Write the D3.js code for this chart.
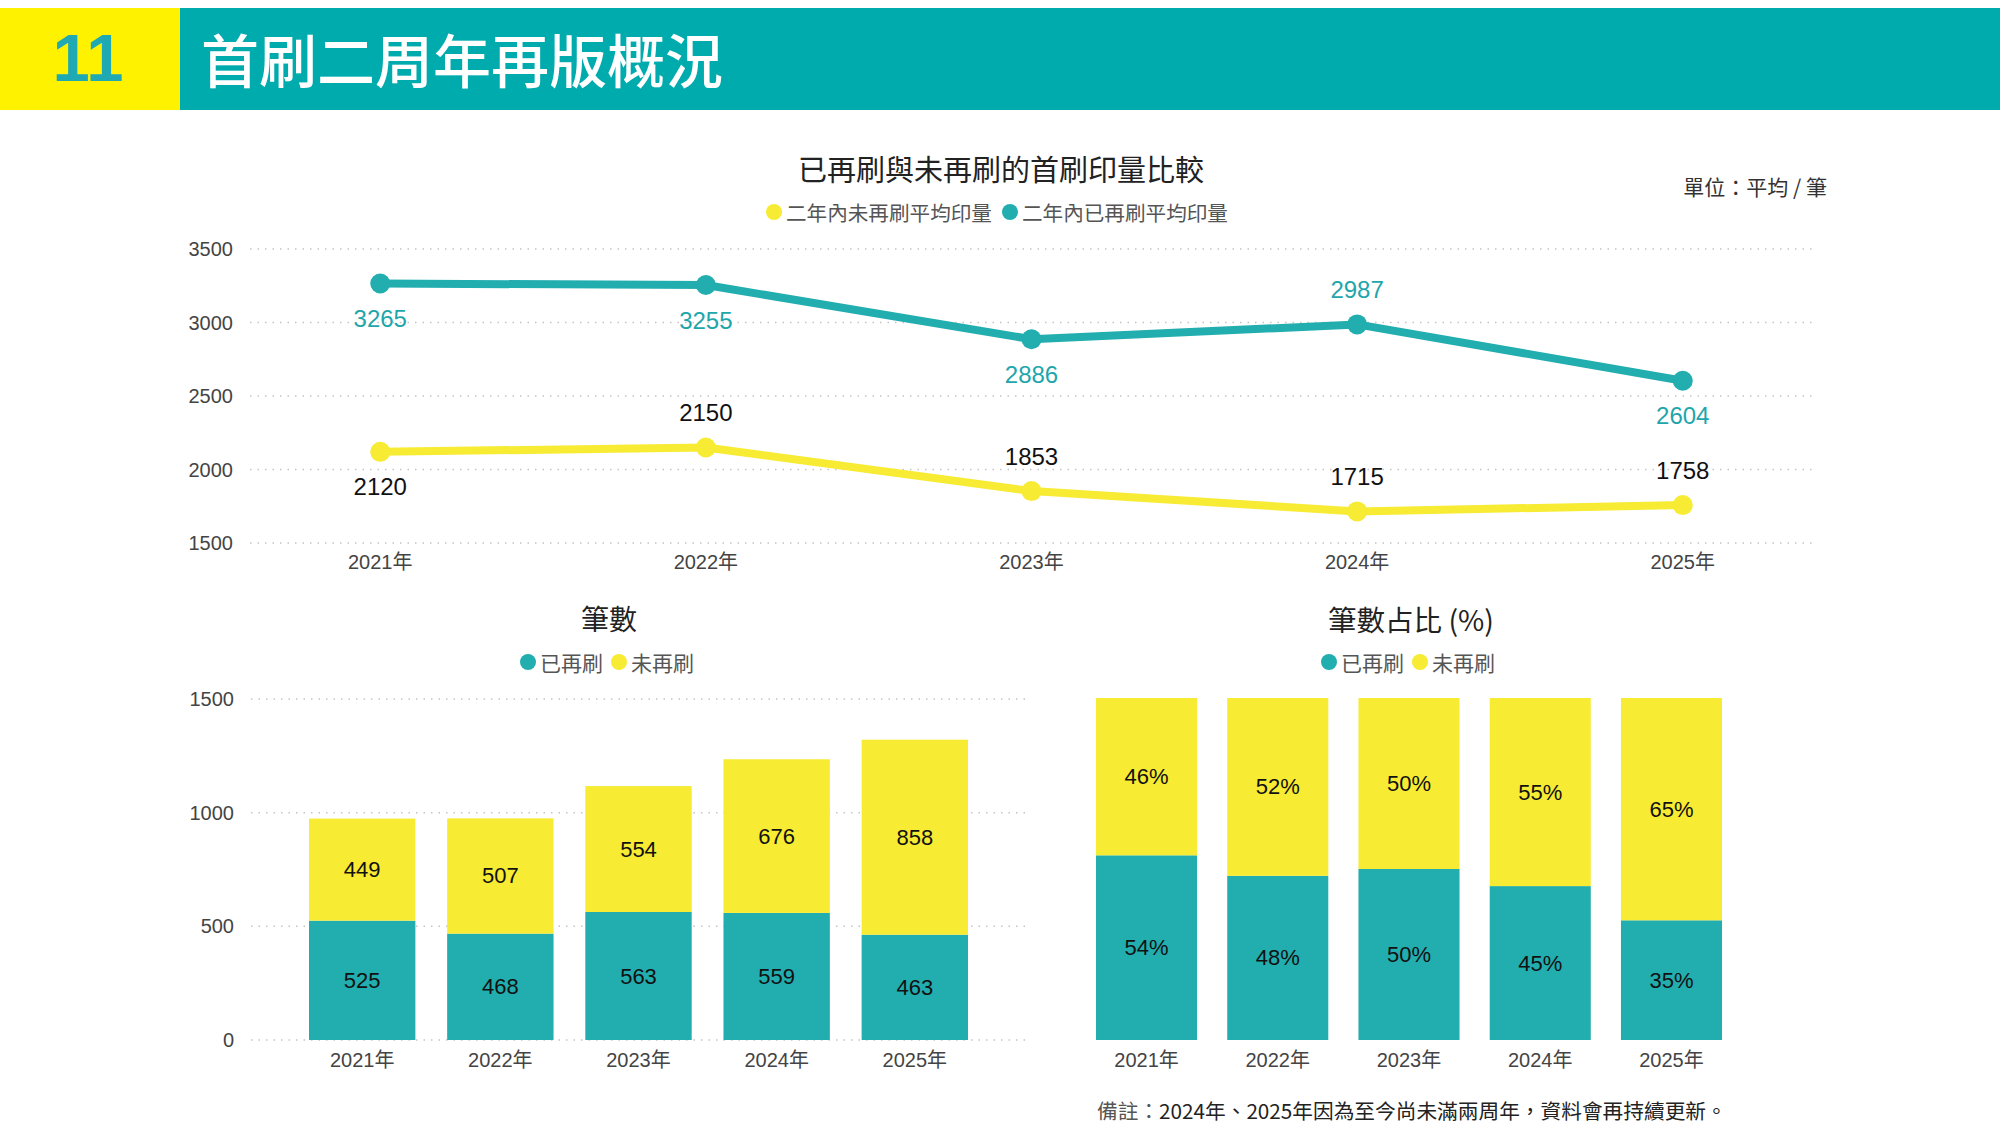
<!DOCTYPE html>
<html>
<head>
<meta charset="utf-8">
<script src="https://cdn.jsdelivr.net/npm/d3@7"></script>
<style>
  body { margin: 0; background: #fff; }
  text { font-family: "Liberation Sans", Arial, "Noto Sans CJK TC", sans-serif; }
</style>
</head>
<body>
<div id="chart"></div>
<script>
// ---- data ----
var years = ['2021年', '2022年', '2023年', '2024年', '2025年'];
var reprintedAvg = [3265, 3255, 2886, 2987, 2604];      // 二年內已再刷平均印量
var notReprintedAvg = [2120, 2150, 1853, 1715, 1758];   // 二年內未再刷平均印量
var reprintedCount = [525, 468, 563, 559, 463];         // 已再刷 筆數
var notReprintedCount = [449, 507, 554, 676, 858];      // 未再刷 筆數
var reprintedPct = [54, 48, 50, 45, 35];
var notReprintedPct = [46, 52, 50, 55, 65];
var avgTicks = [1500, 2000, 2500, 3000, 3500];
var countTicks = [0, 500, 1000, 1500];

var TEAL = '#22adaf', YELLOW = '#f7eb33';
var CJK = '"Noto Sans CJK TC", "Liberation Sans", sans-serif';

var svg = d3.select('#chart').append('svg')
    .attr('width', 2000)
    .attr('height', 1141);

// ---- header band ----
svg.append('rect').attr('x', 0).attr('y', 8).attr('width', 180).attr('height', 102).attr('fill', '#fff200');
svg.append('rect').attr('x', 180).attr('y', 8).attr('width', 1820).attr('height', 102).attr('fill', '#00abae');
svg.append('text')
    .text('11')
    .attr('x', 88).attr('y', 81)
    .attr('text-anchor', 'middle')
    .style('font-size', '67px')
    .style('font-weight', 'bold')
    .style('fill', '#1fa9b3');
svg.append('text')
    .text('首刷二周年再版概況')
    .attr('x', 201).attr('y', 58)
    .attr('dominant-baseline', 'central')
    .style('font-family', CJK)
    .style('font-size', '58px')
    .style('font-weight', '500')
    .style('fill', '#fff');

// legend helper: one dot + label per item, dots at given x positions
var drawLegend = function(items, positions, y, size) {
    items.forEach(function(it, i) {
        svg.append('circle')
            .attr('cx', positions[i]).attr('cy', y).attr('r', 8)
            .attr('fill', it.color);
        svg.append('text')
            .text(it.label)
            .attr('x', positions[i] + 12).attr('y', y)
            .attr('dominant-baseline', 'central')
            .style('font-family', CJK)
            .style('font-size', size + 'px')
            .style('fill', '#555');
    });
};

var drawTitle = function(label, x, y, size) {
    svg.append('text')
        .text(label)
        .attr('x', x).attr('y', y)
        .attr('text-anchor', 'middle')
        .attr('dominant-baseline', 'central')
        .style('font-family', CJK)
        .style('font-size', size + 'px')
        .style('fill', '#222');
};

var gridLines = function(scale, ticks, x0, x1) {
    var g = svg.append('g');
    g.selectAll('line').data(ticks).join('line')
        .attr('x1', x0).attr('x2', x1)
        .attr('y1', function(d) { return scale(d); })
        .attr('y2', function(d) { return scale(d); })
        .attr('stroke', '#c4c4c4')
        .attr('stroke-width', 1.5)
        .attr('stroke-dasharray', '1.5,6');
    g.selectAll('text').data(ticks).join('text')
        .text(function(d) { return d; })
        .attr('x', x0 - 17)
        .attr('y', function(d) { return scale(d); })
        .attr('text-anchor', 'end')
        .attr('dominant-baseline', 'central')
        .style('font-size', '20px')
        .style('fill', '#444');
};

var yearLabels = function(scale, y, offset) {
    svg.append('g').selectAll('text').data(years).join('text')
        .text(function(d) { return d; })
        .attr('x', function(d) { return scale(d) + offset; })
        .attr('y', y)
        .attr('text-anchor', 'middle')
        .attr('dominant-baseline', 'central')
        .style('font-size', '20px')
        .style('fill', '#444');
};

// ---- line chart: 首刷印量比較 ----
drawTitle('已再刷與未再刷的首刷印量比較', 1001, 168, 29);
drawLegend([{ label: '二年內未再刷平均印量', color: YELLOW },
            { label: '二年內已再刷平均印量', color: TEAL }], [774, 1010], 212, 20.6);
svg.append('text')
    .text('單位：平均 / 筆')
    .attr('x', 1827).attr('y', 186)
    .attr('text-anchor', 'end')
    .attr('dominant-baseline', 'central')
    .style('font-family', CJK)
    .style('font-size', '21px')
    .style('fill', '#333');

var xLine = d3.scalePoint().domain(years).range([250, 1813]).padding(0.4);
var yLine = d3.scaleLinear().domain([1500, 3500]).range([543, 249]);
gridLines(yLine, avgTicks, 250, 1813);
yearLabels(xLine, 562, 0);

var line = d3.line()
    .x(function(d, i) { return xLine(years[i]); })
    .y(function(d) { return yLine(d); });

var series = [
    { values: notReprintedAvg, color: YELLOW, labelColor: '#111', above: function(i) { return i !== 0; } },
    { values: reprintedAvg, color: TEAL, labelColor: '#1ea6ab', above: function(i) { return i === 3; } }
];
series.forEach(function(s) {
    svg.append('path')
        .attr('d', line(s.values))
        .attr('fill', 'none')
        .attr('stroke', s.color)
        .attr('stroke-width', 8)
        .attr('stroke-linejoin', 'round');
    svg.append('g').selectAll('circle').data(s.values).join('circle')
        .attr('cx', function(d, i) { return xLine(years[i]); })
        .attr('cy', function(d) { return yLine(d); })
        .attr('r', 10)
        .attr('fill', s.color);
    svg.append('g').selectAll('text').data(s.values).join('text')
        .text(function(d) { return d; })
        .attr('x', function(d, i) { return xLine(years[i]); })
        .attr('y', function(d, i) { return yLine(d) + (s.above(i) ? -35 : 35); })
        .attr('text-anchor', 'middle')
        .attr('dominant-baseline', 'central')
        .style('font-size', '24px')
        .style('fill', s.labelColor);
});

// ---- stacked bars helper ----
var stackBars = function(xs, ys, bottom, top, fmt) {
    var g = svg.append('g');
    years.forEach(function(yr, i) {
        var segs = [
            { y0: 0, y1: bottom[i], color: TEAL, v: bottom[i] },
            { y0: bottom[i], y1: bottom[i] + top[i], color: YELLOW, v: top[i] }
        ];
        segs.forEach(function(s) {
            g.append('rect')
                .attr('x', xs(yr))
                .attr('width', xs.bandwidth())
                .attr('y', ys(s.y1))
                .attr('height', ys(s.y0) - ys(s.y1))
                .attr('fill', s.color);
            g.append('text')
                .text(fmt(s.v))
                .attr('x', xs(yr) + xs.bandwidth() / 2)
                .attr('y', (ys(s.y0) + ys(s.y1)) / 2)
                .attr('text-anchor', 'middle')
                .attr('dominant-baseline', 'central')
                .style('font-size', '22px')
                .style('fill', '#111');
        });
    });
};

// ---- bar chart: 筆數 ----
drawTitle('筆數', 609, 618, 28);
drawLegend([{ label: '已再刷', color: TEAL },
            { label: '未再刷', color: YELLOW }], [528, 619], 662, 21);
var xCount = d3.scaleBand().domain(years).range([309, 968]).paddingInner(0.23).paddingOuter(0);
var yCount = d3.scaleLinear().domain([0, 1500]).range([1040, 699]);
gridLines(yCount, countTicks, 251, 1028);
stackBars(xCount, yCount, reprintedCount, notReprintedCount, function(v) { return v; });
yearLabels(xCount, 1060, xCount.bandwidth() / 2);

// ---- bar chart: 筆數占比 ----
drawTitle('筆數占比 (%)', 1411, 618, 28.5);
drawLegend([{ label: '已再刷', color: TEAL },
            { label: '未再刷', color: YELLOW }], [1329, 1420], 662, 21);
var xPct = d3.scaleBand().domain(years).range([1096, 1722]).paddingInner(0.23).paddingOuter(0);
var yPct = d3.scaleLinear().domain([0, 100]).range([1040, 698]);
stackBars(xPct, yPct, reprintedPct, notReprintedPct, function(v) { return v + '%'; });
yearLabels(xPct, 1060, xPct.bandwidth() / 2);

// footnote
var note = svg.append('text')
    .attr('x', 1097).attr('y', 1110)
    .attr('dominant-baseline', 'central')
    .style('font-family', CJK)
    .style('font-size', '20.7px');
note.append('tspan').text('備註：').style('fill', '#555');
note.append('tspan').text('2024年、2025年因為至今尚未滿兩周年，資料會再持續更新。').style('fill', '#222');
</script>
</body>
</html>
